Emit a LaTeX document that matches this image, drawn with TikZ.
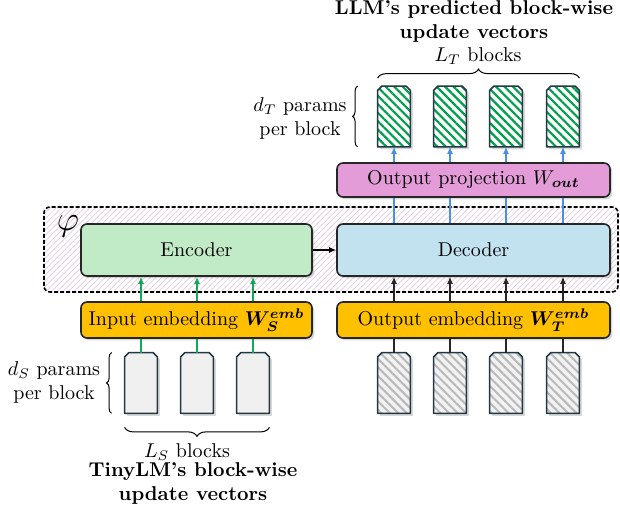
\documentclass[tikz,border=0pt]{standalone}
\usepackage{amsmath}
\usepackage{amssymb}
\usepackage{bm}
\usepackage{tikz}
\usetikzlibrary{positioning}
\usetikzlibrary{patterns.meta}
\usetikzlibrary{shadows}
\usetikzlibrary{decorations.pathreplacing}
\usetikzlibrary{arrows.meta}
\usepackage{xcolor}

\definecolor{encgreen}{HTML}{C1EAC6}
\definecolor{decblue}{HTML}{C2E2F0}
\definecolor{embyellow}{HTML}{FFC000}
\definecolor{projpink}{HTML}{E39CD8}
\definecolor{arrgreen}{HTML}{12A85A}
\definecolor{arrblue}{HTML}{4A90E2}
\definecolor{blkedge}{HTML}{223844}
\definecolor{hatchgreen}{HTML}{00A04A}
\definecolor{phihatch}{HTML}{E3CCE0}

% block outline with the two top corners cut off
\newcommand{\chamfer}[2][]{%
  \draw[blkline, #1] (#2.south west) -- ([yshift=-2.2pt]#2.north west)
    -- ([xshift=2.2pt]#2.north west) -- ([xshift=-2.2pt]#2.north east)
    -- ([yshift=-2.2pt]#2.north east) -- (#2.south east) -- cycle;}

\tikzset{
  shadowed/.style={drop shadow={shadow xshift=1.2pt, shadow yshift=-1.2pt, opacity=0.3}},
  box/.style={draw=black!85, line width=0.8pt, rounded corners=3pt, shadowed, inner sep=0pt},
  wide/.style={box, minimum width=115.5pt},
  wider/.style={box, minimum width=136.5pt},
  blk/.style={rectangle, minimum width=16pt, minimum height=30pt, inner sep=0pt},
  blkline/.style={draw=blkedge, line width=0.8pt, line join=round, shadowed},
  outfill/.style={preaction={fill=white},
    pattern={Lines[angle=-45,distance=3pt,line width=1.1pt]}, pattern color=hatchgreen},
  infill/.style={preaction={fill=gray!10},
    pattern={Lines[angle=-45,distance=3pt,line width=1pt]}, pattern color=gray!55},
  srcfill/.style={fill=gray!12},
  brc/.style={decorate, decoration={brace, amplitude=#1}, line width=0.5pt},
  brc/.default=4.5pt
}

\begin{document}
\begin{tikzpicture}[x=0.5pt, y=0.5pt, >={Latex[length=3.5pt,width=3pt]}]
  \useasboundingbox (0,0) rectangle (620,507);

  % shared encoder/decoder block phi
  \draw[line width=0.8pt, dash pattern=on 2pt off 1pt, rounded corners=3pt,
        pattern={Lines[angle=45,distance=2pt,line width=0.35pt]}, pattern color=phihatch]
        (44,215) rectangle (618,300);
  \node (phi) at (68,281) {\LARGE$\varphi$};

  \node[wide, minimum height=26pt, fill=encgreen] (enc) at (196.5,257) {Encoder};
  \node[wider, minimum height=26pt, fill=decblue] (dec) at (473.5,257) {Decoder};
  \node[wide, minimum height=18pt, fill=embyellow] (inemb) at (196.5,187) {Input embedding $\bm{W_S^{emb}}$};
  \node[wider, minimum height=18pt, fill=embyellow] (outemb) at (473.5,187) {Output embedding $\bm{W_T^{emb}}$};
  \node[wider, minimum height=17pt, fill=projpink] (proj) at (473.5,327) {Output projection $W_{\bm{out}}$};

  \draw[->, line width=0.6pt] (enc) -- (dec);

  % TinyLM blocks
  \foreach \i/\xx in {1/141,2/197,3/253} {
    \node[blk] (sin\i) at (\xx,124) {};
    \chamfer[srcfill]{sin\i}
    \draw[arrgreen, line width=0.6pt] (sin\i.north) -- (sin\i |- inemb.south);
    \draw[arrgreen, line width=0.6pt, ->] (sin\i |- inemb.north) -- (sin\i |- enc.south);
  }

  % LLM blocks, in and out
  \foreach \i/\xx in {1/394,2/450,3/506,4/563} {
    \node[blk] (tin\i) at (\xx,124) {};
    \chamfer[infill]{tin\i}
    \node[blk] (tout\i) at (\xx,390.5) {};
    \chamfer[outfill]{tout\i}
    \draw[black!85, line width=0.6pt] (tin\i.north) -- (tin\i |- outemb.south);
    \draw[black!85, line width=0.6pt, ->] (tin\i |- outemb.north) -- (tin\i |- dec.south);
    \draw[arrblue, line width=0.6pt] (tin\i |- dec.north) -- (tin\i |- proj.south);
    \draw[arrblue, line width=0.6pt, ->] (tin\i |- proj.north) -- (tout\i.south);
  }

  % braces and labels
  \draw[brc=2.5pt] ([xshift=-6.5pt]sin1.south west) -- ([xshift=-6.5pt]sin1.north west);
  \node[align=center] (ds) at (54,124) {$d_S$ params\\per block};
  \draw[brc] ([yshift=-7pt]sin3.south east) -- ([yshift=-7pt]sin1.south west);
  \node (ls) at (187,55) {$L_S$ blocks};
  \node[align=center, font=\bfseries] (tiny) at (193,23.5) {TinyLM's block-wise\\update vectors};

  \draw[brc=2.5pt] ([xshift=-10pt]tout1.south west) -- ([xshift=-10pt]tout1.north west);
  \node[align=center] (dt) at (300,388) {$d_T$ params\\per block};
  \draw[brc] ([yshift=4pt]tout1.north west) -- ([yshift=4pt]tout4.north east);
  \node (lt) at (478,451) {$L_T$ blocks};
  \node[align=center, font=\bfseries] (llm) at (474,485) {LLM's predicted block-wise\\update vectors};
\end{tikzpicture}
\end{document}
